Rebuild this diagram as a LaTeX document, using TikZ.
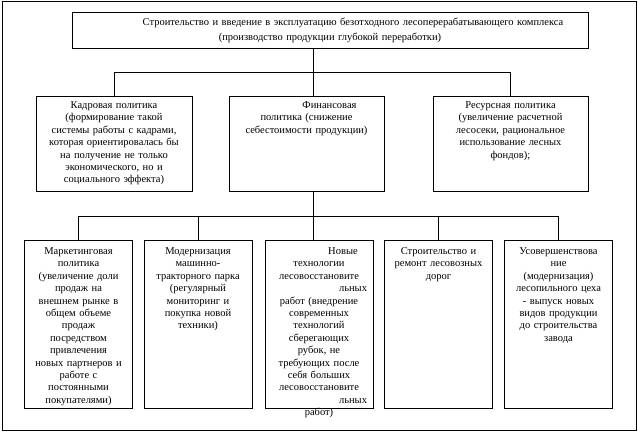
\documentclass[tikz,border=0pt]{standalone}
\usepackage{fontspec}
\setmainfont{Liberation Serif}
\usetikzlibrary{positioning}
\begin{document}
\begin{tikzpicture}[
    x=1pt, y=-1pt,
    box/.style={
        rectangle,
        draw=black,
        line width=0.75pt,
        inner sep=0pt,
        minimum height=95pt,
        minimum width=155pt
    },
    smallbox/.style={
        box,
        minimum height=167.3pt,
        minimum width=108pt
    },
    txt/.style={
        align=center,
        inner sep=0pt,
        font=\fontsize{10.5}{12.4}\selectfont
    },
    link/.style={
        draw=black,
        line width=0.75pt
    }
]
\useasboundingbox (0,0) rectangle (638,434);

% Рамка
\draw[link] (2,1.8) rectangle (636,430.5);

% Главный блок
\node[box, minimum width=516pt, minimum height=35.5pt] (main) at (330,30.25) {};
\node[txt, font=\fontsize{10.5}{15}\selectfont, text width=512pt, below=6pt of main.north] (maintxt) {
    \hspace*{46pt}Строительство и введение в эксплуатацию безотходного лесоперерабатывающего комплекса\\
    (производство продукции глубокой переработки)
};

% Второй уровень
\node[box, minimum width=156pt] (kadr) at (114,144.2) {};
\node[box] (fin) at (306.5,144.2) {};
\node[box] (res) at (510.5,144.2) {};

\node[txt, text width=152pt, below=5pt of kadr.north] (kadrtxt) {
    Кадровая политика\\ (формирование такой\\ системы работы с кадрами,\\
    которая ориентировалась бы\\ на получение не только\\
    экономического, но и\\ социального эффекта)
};
\node[txt, text width=152pt, below=5pt of fin.north] (fintxt) {
    \hspace*{46pt}Финансовая\\ политика (снижение\\ себестоимости продукции)
};
\node[txt, text width=152pt, below=5pt of res.north] (restxt) {
    Ресурсная политика\\ (увеличение расчетной\\ лесосеки, рациональное\\
    использование лесных\\ фондов);
};

% Третий уровень
\node[smallbox] (mark) at (78.5,324.35) {};
\node[smallbox] (tech) at (198,324.35) {};
\node[smallbox] (lesvos) at (319,324.35) {};
\node[smallbox] (dorog) at (438.5,324.35) {};
\node[smallbox] (ceh) at (558.5,324.35) {};

\node[txt, text width=104pt, below=7pt of mark.north] (marktxt) {
    Маркетинговая\\ политика\\ (увеличение доли\\ продаж на\\ внешнем рынке в\\
    общем объеме\\ продаж\\ посредством\\ привлечения\\ новых партнеров и\\
    работе с\\ постоянными\\ покупателями)
};
\node[txt, text width=104pt, below=7pt of tech.north] (techtxt) {
    Модернизация\\ машинно-\\ тракторного парка\\ (регулярный\\
    мониторинг и\\ покупка новой\\ техники)
};
\node[txt, text width=96pt, below=7pt of lesvos.north] (lesvostxt) {
    \hspace*{48pt}Новые\\ технологии\\ лесовосстановите\\ \makebox[96pt][r]{льных}\\
    работ (внедрение\\ современных\\ технологий\\ сберегающих\\ рубок, не\\
    требующих после\\ себя больших\\ лесовосстановите\\ \makebox[96pt][r]{льных}\\
    работ)
};
\node[txt, text width=104pt, below=7pt of dorog.north] (dorogtxt) {
    Строительство и\\ ремонт лесовозных\\ дорог
};
\node[txt, text width=104pt, below=7pt of ceh.north] (cehtxt) {
    Усовершенствова\\ ние\\ (модернизация)\\ лесопильного цеха\\
    - выпуск новых\\ видов продукции\\ до строительства\\ завода
};

% Связи
\coordinate (hubA) at (313,72.3);
\coordinate (hubB) at (313,216.3);

\draw[link] (main.south -| hubA) -- (hubA);
\draw[link] (kadr.north) |- (hubA) -| (res.north);
\draw[link] (hubA) -- (hubA |- fin.north);

\draw[link] (fin.south -| hubB) -- (hubB);
\draw[link] (mark.north) |- (hubB) -| (ceh.north);
\draw[link] (tech.north) -- (tech.north |- hubB);
\draw[link] (dorog.north) -- (dorog.north |- hubB);
\draw[link] (hubB) -- (hubB |- lesvos.north);

\end{tikzpicture}
\end{document}
